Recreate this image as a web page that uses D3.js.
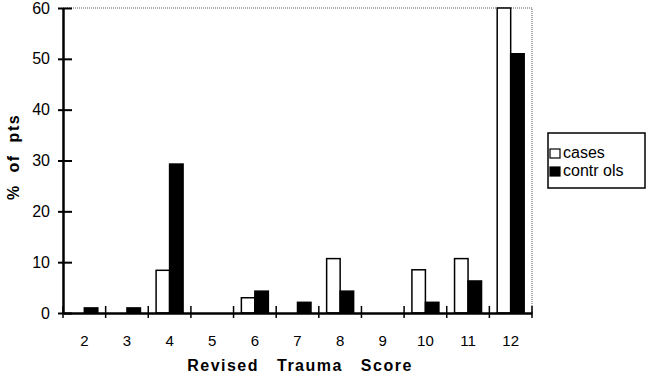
<!DOCTYPE html>
<html>

<head>
  <meta charset="utf8">
  <script src="https://d3js.org/d3.v7.min.js"></script>
  <style>
    body { margin: 0; background: #fff; }
    text { font-family: "Liberation Sans", Arial, sans-serif; fill: #000; }
  </style>
</head>

<body>
  <svg id="chart" width="650" height="377"></svg>
  <script>
    var scores = ['2', '3', '4', '5', '6', '7', '8', '9', '10', '11', '12'];
    var cases = [0, 0, 8.4, 0, 3, 0, 10.7, 0, 8.5, 10.7, 60];
    var controls = [1, 1, 29.3, 0, 4.3, 2.1, 4.3, 0, 2.1, 6.3, 51];
    var yTicks = [0, 10, 20, 30, 40, 50, 60];
    var seriesNames = ['cases', 'controls'];
    var legendLabels = ['cases', 'contr ols'];

    var chart = d3.select('#chart');
    var margin = { top: 8, right: 118, bottom: 64, left: 63 };
    var width = chart.attr('width') - margin.left - margin.right;
    var height = chart.attr('height') - margin.top - margin.bottom;

    var data = scores.map((s, i) => ({ score: s, cases: cases[i], controls: controls[i] }));

    var x = d3.scaleBand().domain(scores).range([0, width]);
    var x1 = d3.scaleBand().domain(seriesNames).range([0, x.bandwidth()]).paddingOuter(0.58);
    var y = d3.scaleLinear().domain([0, 60]).range([height, 0]);
    var fill = d3.scaleOrdinal().domain(seriesNames).range(['#fff', '#000']);

    var g = chart.append('g')
      .attr('transform', 'translate(' + margin.left + ',' + margin.top + ')');

    // dotted frame top and right
    g.append('path')
      .attr('d', 'M0,0H' + width + 'V' + height)
      .attr('fill', 'none')
      .attr('stroke', '#555')
      .attr('stroke-width', 1)
      .attr('stroke-dasharray', '1,1');

    // bars
    g.selectAll('.grp')
      .data(data)
      .enter().append('g')
      .attr('class', 'grp')
      .attr('transform', (d) => 'translate(' + x(d.score) + ',0)')
      .selectAll('rect')
      .data((d) => seriesNames.map((k) => ({ key: k, value: d[k] })).filter((e) => e.value > 0))
      .enter().append('rect')
      .attr('x', (d) => x1(d.key))
      .attr('width', x1.bandwidth())
      .attr('y', (d) => y(d.value))
      .attr('height', (d) => height - y(d.value))
      .attr('fill', (d) => fill(d.key))
      .attr('stroke', '#000')
      .attr('stroke-width', 1.5);

    // x axis
    var xAxis = g.append('g')
      .attr('transform', 'translate(0,' + height + ')')
      .call(d3.axisBottom(x).tickSize(0).tickPadding(22));
    xAxis.select('.domain').attr('stroke-width', 2.5);
    xAxis.selectAll('text').style('font-size', '15px');
    xAxis.selectAll('.edge')
      .data(scores.slice(1).map((s) => x(s)).concat([0, width]))
      .enter().append('line')
      .attr('class', 'edge')
      .attr('x1', (d) => d).attr('x2', (d) => d)
      .attr('y1', -7).attr('y2', 5)
      .attr('stroke', '#000')
      .attr('stroke-width', 1.5);

    // y axis
    var yAxis = g.append('g')
      .call(d3.axisLeft(y).tickValues(yTicks).tickSizeOuter(0));
    yAxis.select('.domain').attr('stroke-width', 2.5);
    yAxis.selectAll('.tick line').attr('x1', -5).attr('x2', 9).attr('stroke-width', 2);
    yAxis.selectAll('text').attr('x', -13).style('font-size', '16px');

    // axis titles
    chart.append('text')
      .attr('transform', 'translate(19,157) rotate(-90)')
      .attr('text-anchor', 'middle')
      .style('font-size', '16px')
      .style('font-weight', 'bold')
      .style('letter-spacing', '1.5px')
      .style('word-spacing', '6px')
      .text('% of pts');

    chart.append('text')
      .attr('x', 300)
      .attr('y', 371)
      .attr('text-anchor', 'middle')
      .style('font-size', '16px')
      .style('font-weight', 'bold')
      .style('letter-spacing', '1.5px')
      .style('word-spacing', '12px')
      .text('Revised Trauma Score');

    // legend
    var legend = chart.append('g').attr('transform', 'translate(548,133)');
    legend.append('rect')
      .attr('width', 97).attr('height', 55)
      .attr('fill', '#fff').attr('stroke', '#000').attr('stroke-width', 1.5);
    var item = legend.selectAll('.item')
      .data(seriesNames)
      .enter().append('g')
      .attr('class', 'item')
      .attr('transform', (d, i) => 'translate(2,' + (16 + i * 18) + ')');
    item.append('rect')
      .attr('width', 10).attr('height', 9)
      .attr('fill', (d) => fill(d))
      .attr('stroke', '#000').attr('stroke-width', 1.2);
    item.append('text')
      .attr('x', 13).attr('y', 9)
      .style('font-size', '16px')
      .text((d, i) => legendLabels[i]);
  </script>
</body>

</html>
